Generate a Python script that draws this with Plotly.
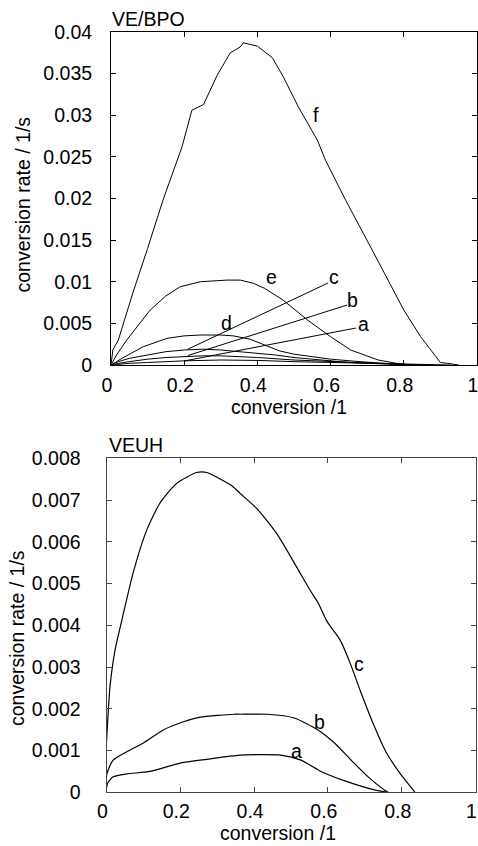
import plotly.graph_objects as go

W, H = 478, 846
FONT = "Liberation Sans, Arial, sans-serif"
FS = 19.5

# ---------------- Top panel (VE/BPO) data ----------------
f_x = [0, 0.005, 0.02, 0.06, 0.1, 0.142, 0.194, 0.221, 0.253, 0.29, 0.326, 0.353, 0.362,
       0.40, 0.441, 0.471, 0.512, 0.564, 0.586, 0.641, 0.718, 0.80, 0.846, 0.888, 0.90, 0.92, 0.95]
f_y = [0, 0.0018, 0.003, 0.0087, 0.014, 0.0198, 0.0262, 0.0306, 0.0313, 0.0348, 0.0375, 0.0382, 0.0387,
       0.0383, 0.0369, 0.0346, 0.031, 0.027, 0.0246, 0.0198, 0.01345, 0.0066, 0.0034, 0.001, 0.0003, 0.0002, 0]

e_x = [0, 0.015, 0.043, 0.107, 0.15, 0.189, 0.244, 0.317, 0.353, 0.39, 0.42, 0.47, 0.537, 0.6,
       0.655, 0.73, 0.78, 0.82]
e_y = [0, 0.0012, 0.003, 0.0066, 0.0083, 0.0094, 0.0100, 0.0102, 0.0102, 0.0098, 0.0092, 0.0078,
       0.0054, 0.0034, 0.0018, 0.0006, 0.0002, 0]

d_x = [0, 0.03, 0.088, 0.153, 0.2, 0.244, 0.3, 0.334, 0.38, 0.42, 0.46, 0.5, 0.55, 0.6, 0.68, 0.75, 0.82]
d_y = [0, 0.0008, 0.0022, 0.0032, 0.0035, 0.0036, 0.0036, 0.0035, 0.0031, 0.0024, 0.0017, 0.0013,
       0.001, 0.0007, 0.0004, 0.0002, 0]

c_x = [0, 0.02, 0.05, 0.1, 0.15, 0.2, 0.25, 0.3, 0.35, 0.4, 0.45, 0.5, 0.55, 0.6, 0.65, 0.7, 0.75, 0.8, 0.85]
c_y = [0, 0.0004, 0.0008, 0.0012, 0.0016, 0.0018, 0.0019, 0.0018, 0.0016, 0.0014, 0.0012, 0.0009,
       0.0007, 0.0005, 0.0003, 0.0002, 0.0001, 0.00004, 0]

b_x = [0, 0.02, 0.05, 0.1, 0.15, 0.2, 0.25, 0.3, 0.35, 0.4, 0.5, 0.6, 0.7, 0.8, 0.88]
b_y = [0, 0.0002, 0.0004, 0.0007, 0.0009, 0.001, 0.0011, 0.0011, 0.001, 0.0009, 0.0006, 0.0004,
       0.0002, 0.00008, 0]

a_x = [0, 0.02, 0.05, 0.1, 0.2, 0.3, 0.35, 0.4, 0.5, 0.6, 0.7, 0.8, 0.93]
a_y = [0, 0.0001, 0.0002, 0.0003, 0.0005, 0.0006, 0.0006, 0.00055, 0.0004, 0.0003, 0.00015, 0.00006, 0]

top_series = [(f_x, f_y), (e_x, e_y), (d_x, d_y), (c_x, c_y), (b_x, b_y), (a_x, a_y)]

# curve labels (text, x, y)
top_labels = [("f", 0.560, 0.0300), ("e", 0.439, 0.01053), ("d", 0.316, 0.0050),
              ("c", 0.610, 0.01053), ("b", 0.659, 0.0078), ("a", 0.689, 0.0049)]
# leader lines (x0, y0, x1, y1)
top_leaders = [(0.593, 0.00985, 0.21, 0.0019),
               (0.645, 0.0072, 0.21, 0.00114),
               (0.669, 0.00444, 0.202, 0.0005)]

# ---------------- Bottom panel (VEUH) data ----------------
vc_x = [0, 0.0095, 0.023, 0.041, 0.072, 0.109, 0.145, 0.19, 0.244, 0.272, 0.343, 0.362, 0.407,
        0.461, 0.515, 0.551, 0.574, 0.597, 0.633, 0.66, 0.687, 0.722, 0.759, 0.795, 0.836]
vc_y = [0.0012, 0.00253, 0.0034, 0.0041, 0.00525, 0.00628, 0.00693, 0.0074, 0.00766, 0.00766,
        0.00732, 0.00716, 0.0068, 0.0062, 0.0054, 0.00485, 0.00453, 0.0041, 0.00365, 0.0031,
        0.00245, 0.00166, 0.00094, 0.00046, 0]

vb_x = [0, 0.003, 0.018, 0.055, 0.1, 0.155, 0.209, 0.254, 0.345, 0.362, 0.436, 0.509, 0.572,
        0.618, 0.663, 0.709, 0.754, 0.763]
vb_y = [0.0004, 0.0005, 0.00077, 0.00097, 0.00118, 0.0015, 0.00169, 0.0018, 0.00187, 0.00187,
        0.00187, 0.00178, 0.0015, 0.00118, 0.00077, 0.00037, 0.00005, 0]

va_x = [0, 0.003, 0.018, 0.055, 0.118, 0.2, 0.272, 0.362, 0.472, 0.527, 0.581, 0.654, 0.726, 0.763]
va_y = [0.0001, 0.00022, 0.00037, 0.00044, 0.0005, 0.0007, 0.00079, 0.00089, 0.00089, 0.00077,
        0.0005, 0.00025, 0.00006, 0]

bot_series = [(vc_x, vc_y), (vb_x, vb_y), (va_x, va_y)]
bot_labels = [("c", 0.684, 0.00307), ("b", 0.576, 0.00169), ("a", 0.515, 0.00099)]

fig = go.Figure()
for xs, ys in top_series:
    fig.add_trace(go.Scatter(x=xs, y=ys, mode="lines", line=dict(color="black", width=1),
                             xaxis="x", yaxis="y", showlegend=False, hoverinfo="skip"))
for x0, y0, x1, y1 in top_leaders:
    fig.add_trace(go.Scatter(x=[x0, x1], y=[y0, y1], mode="lines", line=dict(color="black", width=1),
                             xaxis="x", yaxis="y", showlegend=False, hoverinfo="skip"))
for xs, ys in bot_series:
    fig.add_trace(go.Scatter(x=xs, y=ys, mode="lines", line=dict(color="black", width=1.2, shape="spline", smoothing=0.6),
                             xaxis="x2", yaxis="y2", showlegend=False, hoverinfo="skip"))

ann = []
for t, x, y in top_labels:
    ann.append(dict(text=t, x=x, y=y, xref="x", yref="y", showarrow=False,
                    font=dict(family=FONT, size=FS, color="black")))
for t, x, y in bot_labels:
    ann.append(dict(text=t, x=x, y=y, xref="x2", yref="y2", showarrow=False,
                    font=dict(family=FONT, size=FS, color="black")))


def px(xp):
    return xp / W


def py(yp):
    return 1 - yp / H


titles = [
    ("VE/BPO", px(110), py(19), "left", 0),
    ("conversion /1", px(289), py(407), "center", 0),
    ("conversion rate / 1/s", px(22), py(204.5), "center", -90),
    ("VEUH", px(106.5), py(445), "left", 0),
    ("conversion /1", px(278), py(833), "center", 0),
    ("conversion rate / 1/s", px(17), py(638), "center", -90),
]
for t, x, y, xa, ang in titles:
    ann.append(dict(text=t, x=x, y=y, xref="paper", yref="paper", xanchor=xa, yanchor="middle",
                    textangle=ang, showarrow=False, font=dict(family=FONT, size=FS, color="black")))

axis_common = dict(showgrid=False, zeroline=False, ticks="inside", ticklen=5, mirror="ticks",
                   showline=True, automargin=False, ticklabeloverflow="allow",
                   tickfont=dict(family=FONT, size=FS, color="black"))

fig.update_layout(
    template="none",
    width=W, height=H,
    margin=dict(l=0, r=0, t=0, b=0, autoexpand=False),
    paper_bgcolor="white", plot_bgcolor="white",
    xaxis=dict(domain=[px(111), px(477)], range=[0, 1], dtick=0.2, anchor="y",
               linecolor="black", tickcolor="black", linewidth=1, ticklabelstandoff=3,
               ticklabelshift=-4, **axis_common),
    yaxis=dict(domain=[py(365), py(32)], range=[0, 0.04], dtick=0.005, anchor="x",
               linecolor="black", tickcolor="black", linewidth=1, ticklabelstandoff=14,
               **axis_common),
    xaxis2=dict(domain=[px(106.5), px(475.5)], range=[0, 1], dtick=0.2, anchor="y2",
                linecolor="#444", tickcolor="#444", linewidth=1, ticklabelstandoff=1,
                ticklabelshift=-4, **axis_common),
    yaxis2=dict(domain=[py(792.3), py(458.3)], range=[0, 0.008], dtick=0.001, anchor="x2",
                linecolor="#444", tickcolor="#444", linewidth=1, ticklabelstandoff=21,
                **axis_common),
    annotations=ann,
)

fig.write_html("out.html")
